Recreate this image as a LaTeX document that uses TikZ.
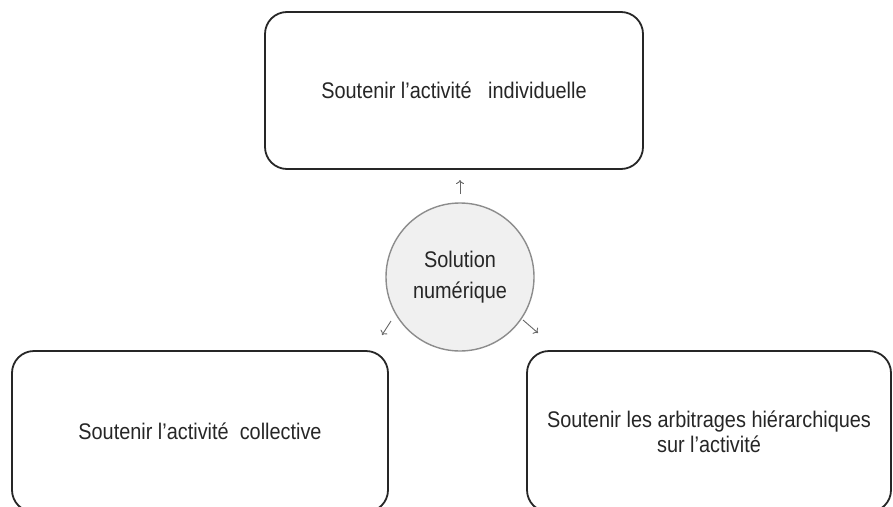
\documentclass[tikz,border=0pt]{standalone}
\usepackage{fontspec}
\setmainfont[FakeStretch=0.88]{Liberation Sans}
\usetikzlibrary{arrows,arrows.meta,positioning,calc}

\begin{document}
\begin{tikzpicture}[x=1pt, y=-1pt,
            every node/.style={font=\fontsize{22.6}{31}\selectfont, text=black!85, align=center},
            box/.style={draw=black!85, line width=1.8pt, rounded corners=22pt, inner sep=0pt},
            hub/.style={draw=black!45, fill=black!6, line width=1.4pt, circle, minimum size=148pt, inner sep=0pt},
            arr/.style={draw=black!60, line width=0.9pt, -{To[length=4pt,width=8pt]}}]
        \useasboundingbox (0,0) rectangle (893,506);
        \clip (0,0) rectangle (893,506);
        \node[box, minimum width=378pt, minimum height=157pt] (indiv) at (454,90.5) {Soutenir l'activité~~ individuelle};
        \node[box, minimum width=376pt, minimum height=161pt] (coll) at (200,431.5) {Soutenir l'activité~ collective};
        \node[box, minimum width=364pt, minimum height=161pt] (hier) at (709,431.5) {\raisebox{-6pt}{\shortstack{Soutenir les arbitrages hiérarchiques\\[1pt] sur l'activité}}};
        \node[hub] (sol) at (460,277) {Solution\\numérique};
        % petites fleches
        \coordinate (up1) at (460,194);
        \coordinate (up2) at (460,180);
        \coordinate (ll1) at (391,321);
        \coordinate (ll2) at (382,335);
        \coordinate (lr1) at (523,320);
        \coordinate (lr2) at (538,333);
        \draw[arr] (up1) -- (up2);
        \draw[arr] (ll1) -- (ll2);
        \draw[arr] (lr1) -- (lr2);
\end{tikzpicture}
\end{document}
